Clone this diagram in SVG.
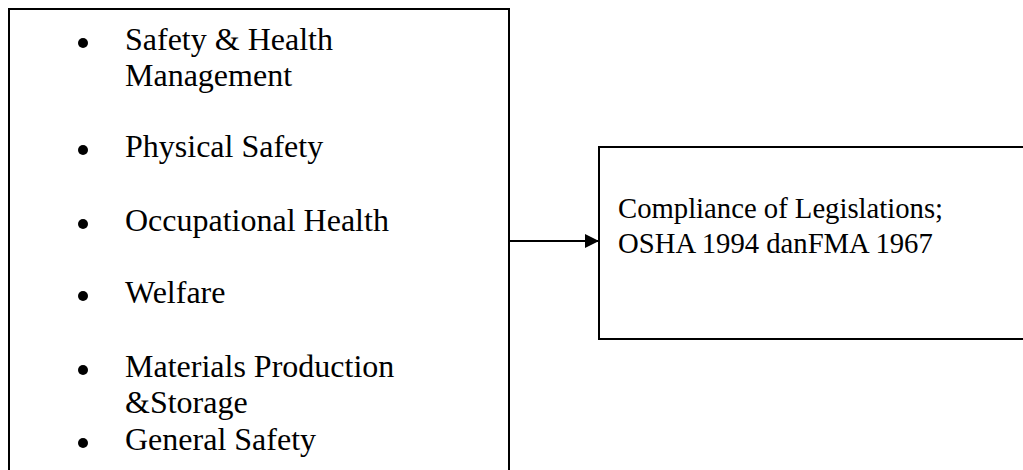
<svg xmlns="http://www.w3.org/2000/svg" width="1023" height="470" viewBox="0 0 1023 470">
<style>
.box{fill:#fff;stroke:#000;stroke-width:2}
.t{font-family:"Liberation Serif","Times New Roman",serif;font-size:32px;fill:#000}
.r{font-family:"Liberation Serif","Times New Roman",serif;font-size:28.7px;fill:#000}
.b{fill:#000}
</style>
<defs>
<marker id="ah" markerWidth="14" markerHeight="14" refX="14" refY="7" orient="auto" markerUnits="userSpaceOnUse">
<path d="M0,0 L14,7 L0,14 Z" fill="#000"/>
</marker>
</defs>
<rect width="1023" height="470" fill="#fff"/>
<g id="node-list">
<rect class="box" x="9" y="9" width="500" height="480"/>
<circle class="b" cx="83" cy="43" r="5"/>
<text class="t" x="125" y="50">Safety &amp; Health</text>
<text class="t" x="125" y="86">Management</text>
<circle class="b" cx="83" cy="150" r="5"/>
<text class="t" x="125" y="157">Physical Safety</text>
<circle class="b" cx="83" cy="224" r="5"/>
<text class="t" x="125" y="231">Occupational Health</text>
<circle class="b" cx="83" cy="296" r="5"/>
<text class="t" x="125" y="303">Welfare</text>
<circle class="b" cx="83" cy="370" r="5"/>
<text class="t" x="125" y="377">Materials Production</text>
<text class="t" x="125" y="413">&amp;Storage</text>
<circle class="b" cx="83" cy="443" r="5"/>
<text class="t" x="125" y="450">General Safety</text>
</g>
<g id="node-compliance">
<rect class="box" x="599" y="147" width="440" height="192"/>
<text class="r" x="618" y="218">Compliance of Legislations;</text>
<text class="r" x="618" y="253">OSHA 1994 danFMA 1967</text>
</g>
<g id="connectors">
<line x1="509" y1="241" x2="599" y2="241" stroke="#000" stroke-width="2" marker-end="url(#ah)"/>
</g>
</svg>
